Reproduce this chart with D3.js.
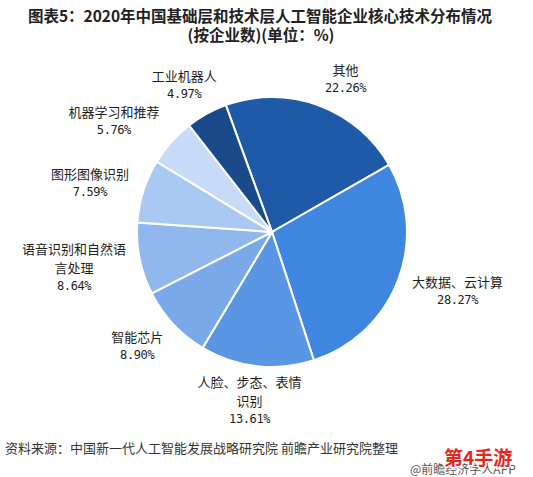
<!DOCTYPE html>
<html>
<head>
<meta charset="utf-8">
<script src="https://cdn.jsdelivr.net/npm/d3@7"></script>
<style>
  body { margin: 0; background: #fff; }
  text { font-family: "Noto Sans CJK SC", "Noto Sans", sans-serif; }
  .title { font-size: 15.5px; font-weight: bold; fill: #222; }
  .label { font-size: 13px; fill: #1e1e1e; }
  .pct { font-family: "DejaVu Sans Mono", "Liberation Mono", monospace; font-size: 12px; letter-spacing: -0.4px; }
  .source { font-size: 13px; fill: #333; }
</style>
</head>
<body>
<div id="chart"></div>
<script>
var width = 533, height = 477;

// data (clockwise order)
var categories = ["其他", "大数据、云计算", "人脸、步态、表情识别", "智能芯片",
  "语音识别和自然语言处理", "图形图像识别", "机器学习和推荐", "工业机器人"];
var labelLines = [["其他"], ["大数据、云计算"], ["人脸、步态、表情", "识别"], ["智能芯片"],
  ["语音识别和自然语", "言处理"], ["图形图像识别"], ["机器学习和推荐"], ["工业机器人"]];
var values = [22.26, 28.27, 13.61, 8.90, 8.64, 7.59, 5.76, 4.97];
var colors = ["#1e5aa8", "#3f86e0", "#5b96e4", "#7aa9ea", "#90b8ee", "#a9c8f2", "#c6dbf7", "#1a4a8a"];

// small hand tweaks of label placement (best-fit labels)
var labelNudge = [[18, 3], [4, -1], [0, -6], [-7, 0], [-1, 0], [-3, 1], [-13, -1], [0, -2]];

var cx = 272, cy = 232, radius = 135;

var svg = d3.select("#chart").append("svg")
  .attr("width", width)
  .attr("height", height);

svg.append("text").attr("class", "title")
  .attr("x", 260).attr("y", 21.5).attr("text-anchor", "middle")
  .text("图表5：2020年中国基础层和技术层人工智能企业核心技术分布情况");
svg.append("text").attr("class", "title")
  .attr("x", 261).attr("y", 41).attr("text-anchor", "middle")
  .text("(按企业数)(单位：%)");

var start = -20 * Math.PI / 180;
var pie = d3.pie().sort(null).value(function(d) { return d; })
  .startAngle(start).endAngle(start + 2 * Math.PI);
var arcs = pie(values);

var arc = d3.arc().innerRadius(0).outerRadius(radius);

var g = svg.append("g").attr("transform", "translate(" + cx + "," + cy + ")");

g.selectAll(".slice")
  .data(arcs)
  .enter().append("path")
    .attr("class", "slice")
    .attr("d", arc)
    .attr("fill", function(d, i) { return colors[i]; })
    .attr("stroke", "#fff")
    .attr("stroke-width", 2);

var lineH = 17, cjkLineH = 19;
g.selectAll(".label")
  .data(arcs)
  .enter().append("text")
    .attr("class", "label")
    .attr("text-anchor", "middle")
    .each(function(d, i) {
      var names = labelLines[i];
      var a = (d.startAngle + d.endAngle) / 2;
      var ux = Math.sin(a), uy = -Math.cos(a);
      var w = d3.max(names, function(s) { return s.length; }) * 13;
      var h = (names.length - 1) * cjkLineH + 2 * lineH;
      var px = (radius + 14) * ux + (w / 2) * ux + labelNudge[i][0];
      var py = (radius + 14) * uy + (h / 2) * uy + labelNudge[i][1];
      var t = d3.select(this);
      var y0 = py - h / 2 + lineH / 2 + 4.7;
      names.forEach(function(s, k) {
        t.append("tspan")
          .attr("x", px)
          .attr("y", y0 + cjkLineH * k)
          .text(s);
      });
      t.append("tspan")
        .attr("class", "pct")
        .attr("x", px)
        .attr("y", y0 + cjkLineH * (names.length - 1) + lineH)
        .text(d3.format(".2f")(values[i]) + "%");
    });

svg.append("text").attr("class", "source")
  .attr("x", 5).attr("y", 453)
  .text("资料来源：中国新一代人工智能发展战略研究院 前瞻产业研究院整理");

svg.append("text")
  .attr("x", 410).attr("y", 474)
  .style("font-size", "12px").style("fill", "#555")
  .text("@前瞻经济学人APP");

svg.append("text")
  .attr("x", 444).attr("y", 465)
  .style("font-size", "19px").style("font-weight", "bold")
  .style("fill", "#e8261c").style("stroke", "#fff").style("stroke-width", 3)
  .style("paint-order", "stroke")
  .text("第4手游");
</script>
</body>
</html>
